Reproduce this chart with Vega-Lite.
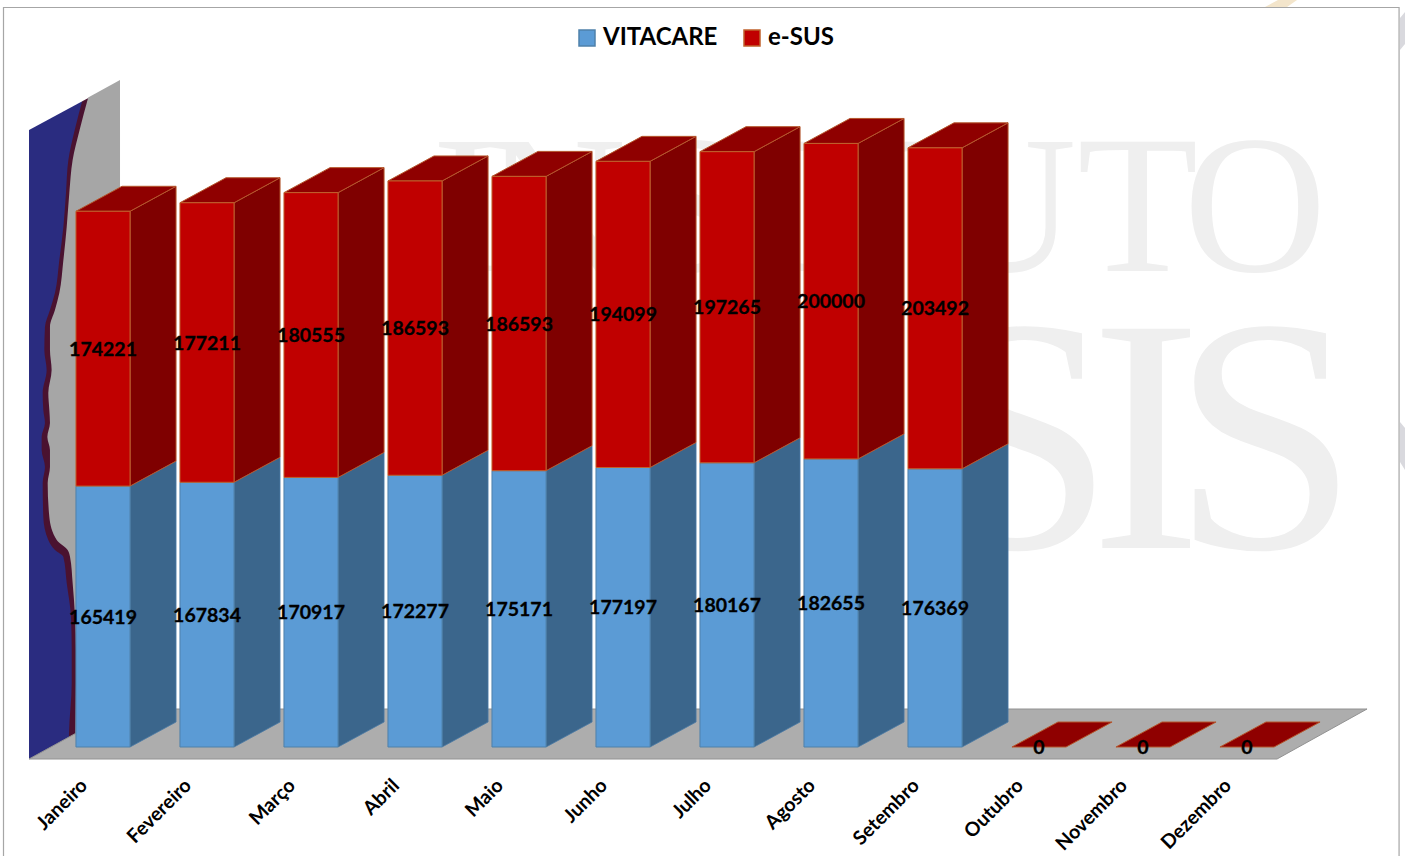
{
"$schema":"https://vega.github.io/schema/vega-lite/v6.json",
"width":1405,"height":759,"autosize":{"type":"none"},"padding":{"left":0,"top":0,"right":0,"bottom":97},
"background":"white","config":{"view":{"stroke":null}},
"datasets":{
"bars":[
{"month":"Janeiro","i":0,"series":"VITACARE","value":165419},{"month":"Janeiro","i":0,"series":"e-SUS","value":174221},
{"month":"Fevereiro","i":1,"series":"VITACARE","value":167834},{"month":"Fevereiro","i":1,"series":"e-SUS","value":177211},
{"month":"Março","i":2,"series":"VITACARE","value":170917},{"month":"Março","i":2,"series":"e-SUS","value":180555},
{"month":"Abril","i":3,"series":"VITACARE","value":172277},{"month":"Abril","i":3,"series":"e-SUS","value":186593},
{"month":"Maio","i":4,"series":"VITACARE","value":175171},{"month":"Maio","i":4,"series":"e-SUS","value":186593},
{"month":"Junho","i":5,"series":"VITACARE","value":177197},{"month":"Junho","i":5,"series":"e-SUS","value":194099},
{"month":"Julho","i":6,"series":"VITACARE","value":180167},{"month":"Julho","i":6,"series":"e-SUS","value":197265},
{"month":"Agosto","i":7,"series":"VITACARE","value":182655},{"month":"Agosto","i":7,"series":"e-SUS","value":200000},
{"month":"Setembro","i":8,"series":"VITACARE","value":176369},{"month":"Setembro","i":8,"series":"e-SUS","value":203492},
{"month":"Outubro","i":9,"series":"VITACARE","value":0},{"month":"Outubro","i":9,"series":"e-SUS","value":0},
{"month":"Novembro","i":10,"series":"VITACARE","value":0},{"month":"Novembro","i":10,"series":"e-SUS","value":0},
{"month":"Dezembro","i":11,"series":"VITACARE","value":0},{"month":"Dezembro","i":11,"series":"e-SUS","value":0}
],
"frame":[{"x":-0.9567,"x2":12.462,"y":468842,"y2":-71642}],
"wall":[{"x":-0.7115,"y":391178,"y2":-7608},{"x":0.1635,"y":422878,"y2":24092}],
"floor":[{"y":-7608,"x":-0.7115,"x2":11.2885},{"y":24092,"x":0.1635,"x2":12.154}],
"mask":[{"x":-0.72,"y":416000,"y2":390800},{"x":-0.141,"y":416000,"y2":411500}],
"cornerA":[{"x":11.173,"y":469160,"y2":469160},{"x":11.298,"y":473598,"y2":469160},{"x":11.385,"y":473598,"y2":469160},{"x":11.481,"y":473598,"y2":473598}],
"cornerB":[{"k":"a","x":12.471,"y":462186,"y2":441898},{"k":"a","x":12.519,"y":465990,"y2":445702},{"k":"b","x":12.471,"y":206050,"y2":180690},{"k":"b","x":12.519,"y":202246,"y2":175618}],
"topWords":[{"t":"I","x":3.481,"y":301784},{"t":"N","x":4.346,"y":301784},{"t":"S","x":5.644,"y":301784},{"t":"T","x":6.606,"y":301784},{"t":"I","x":7.375,"y":301784},{"t":"T","x":8.144,"y":301784},{"t":"U","x":8.673,"y":301784},{"t":"T","x":9.95,"y":301784},{"t":"O","x":11.077,"y":301784}],
"lowWords":[{"t":"S","x":8.827,"y":126166},{"t":"I","x":10.029,"y":126166},{"t":"S","x":11.173,"y":126166}],
"face":[
{"y":412100,"left":-0.7115,"inner":-0.189,"outer":-0.141},
{"y":391178,"left":-0.7115,"inner":-0.272,"outer":-0.225},
{"y":372158,"left":-0.7115,"inner":-0.333,"outer":-0.292},
{"y":351236,"left":-0.7115,"inner":-0.356,"outer":-0.324},
{"y":329680,"left":-0.7115,"inner":-0.381,"outer":-0.349},
{"y":308758,"left":-0.7115,"inner":-0.420,"outer":-0.381},
{"y":287836,"left":-0.7115,"inner":-0.462,"outer":-0.420},
{"y":277058,"left":-0.7115,"inner":-0.510,"outer":-0.462},
{"y":266280,"left":-0.7115,"inner":-0.558,"outer":-0.510},
{"y":251698,"left":-0.7115,"inner":-0.564,"outer":-0.510},
{"y":239018,"left":-0.7115,"inner":-0.542,"outer":-0.494},
{"y":224436,"left":-0.7115,"inner":-0.580,"outer":-0.526},
{"y":213658,"left":-0.7115,"inner":-0.574,"outer":-0.516},
{"y":205416,"left":-0.7115,"inner":-0.558,"outer":-0.510},
{"y":196540,"left":-0.7115,"inner":-0.590,"outer":-0.535},
{"y":188298,"left":-0.7115,"inner":-0.590,"outer":-0.510},
{"y":177520,"left":-0.7115,"inner":-0.558,"outer":-0.510},
{"y":167376,"left":-0.7115,"inner":-0.580,"outer":-0.532},
{"y":145820,"left":-0.7115,"inner":-0.574,"outer":-0.516},
{"y":131238,"left":-0.7115,"inner":-0.526,"outer":-0.445},
{"y":124898,"left":-0.7115,"inner":-0.462,"outer":-0.340},
{"y":120460,"left":-0.7115,"inner":-0.381,"outer":-0.317},
{"y":103976,"left":-0.7115,"inner":-0.349,"outer":-0.292},
{"y":82420,"left":-0.7115,"inner":-0.308,"outer":-0.269},
{"y":61498,"left":-0.7115,"inner":-0.301,"outer":-0.260},
{"y":40576,"left":-0.7115,"inner":-0.301,"outer":-0.260},
{"y":8876,"left":-0.7115,"inner":-0.327,"outer":-0.266},
{"y":-7608,"left":-0.7115,"inner":-0.33,"outer":-0.266}
]
},
"layer":[
{"data":{"name":"cornerA"},"mark":{"type":"area","orient":"vertical","fill":"#f3e5cb"},"encoding":{
"x":{"field":"x","type":"quantitative","scale":{"domain":[-0.9904,12.519],"nice":false,"zero":false},"axis":null},
"y":{"field":"y","type":"quantitative","scale":{"domain":[-7608,473598],"nice":false,"zero":false},"axis":null},"y2":{"field":"y2"}}},
{"data":{"name":"cornerB"},"mark":{"type":"area","orient":"vertical","fill":"#d9d9de"},"encoding":{
"x":{"field":"x","type":"quantitative","scale":{"domain":[-0.9904,12.519],"nice":false,"zero":false},"axis":null},
"y":{"field":"y","type":"quantitative","scale":{"domain":[-7608,473598],"nice":false,"zero":false},"axis":null},"y2":{"field":"y2"},"detail":{"field":"k"}}},
{"data":{"name":"frame"},"mark":{"type":"rect","fillOpacity":0,"stroke":"#a6a6a6","strokeWidth":1.2},"encoding":{
"x":{"field":"x","type":"quantitative","scale":{"domain":[-0.9904,12.519],"nice":false,"zero":false},"axis":null},"x2":{"field":"x2"},
"y":{"field":"y","type":"quantitative","scale":{"domain":[-7608,473598],"nice":false,"zero":false},"axis":null},"y2":{"field":"y2"}}},
{"data":{"name":"topWords"},"mark":{"type":"text","font":"Liberation Serif","fontSize":198,"color":"#efefef","align":"center","baseline":"alphabetic"},"encoding":{
"x":{"field":"x","type":"quantitative","scale":{"domain":[-0.9904,12.519],"nice":false,"zero":false},"axis":null},
"y":{"field":"y","type":"quantitative","scale":{"domain":[-7608,473598],"nice":false,"zero":false},"axis":null},"text":{"field":"t"}}},
{"data":{"name":"lowWords"},"mark":{"type":"text","font":"Liberation Serif","fontSize":335,"color":"#efefef","align":"center","baseline":"alphabetic"},"encoding":{
"x":{"field":"x","type":"quantitative","scale":{"domain":[-0.9904,12.519],"nice":false,"zero":false},"axis":null},
"y":{"field":"y","type":"quantitative","scale":{"domain":[-7608,473598],"nice":false,"zero":false},"axis":null},"text":{"field":"t"}}},
{"data":{"name":"wall"},"mark":{"type":"area","orient":"vertical","fill":"#a6a6a6"},"encoding":{
"x":{"field":"x","type":"quantitative","scale":{"domain":[-0.9904,12.519],"nice":false,"zero":false},"axis":null},
"y":{"field":"y","type":"quantitative","scale":{"domain":[-7608,473598],"nice":false,"zero":false},"axis":null},"y2":{"field":"y2"}}},
{"data":{"name":"face"},"mark":{"type":"area","orient":"horizontal","fill":"#4a1230","interpolate":"monotone"},"encoding":{
"y":{"field":"y","type":"quantitative","scale":{"domain":[-7608,473598],"nice":false,"zero":false},"axis":null},
"x":{"field":"left","type":"quantitative","scale":{"domain":[-0.9904,12.519],"nice":false,"zero":false},"axis":null},"x2":{"field":"outer"}}},
{"data":{"name":"face"},"mark":{"type":"area","orient":"horizontal","fill":"#2a2c80","interpolate":"monotone"},"encoding":{
"y":{"field":"y","type":"quantitative","scale":{"domain":[-7608,473598],"nice":false,"zero":false},"axis":null},
"x":{"field":"left","type":"quantitative","scale":{"domain":[-0.9904,12.519],"nice":false,"zero":false},"axis":null},"x2":{"field":"inner"}}},
{"data":{"name":"mask"},"mark":{"type":"area","orient":"vertical","fill":"white"},"encoding":{
"x":{"field":"x","type":"quantitative","scale":{"domain":[-0.9904,12.519],"nice":false,"zero":false},"axis":null},
"y":{"field":"y","type":"quantitative","scale":{"domain":[-7608,473598],"nice":false,"zero":false},"axis":null},"y2":{"field":"y2"}}},
{"data":{"name":"floor"},"mark":{"type":"area","orient":"horizontal","fill":"#adadad","stroke":"#929292","strokeWidth":1},"encoding":{
"y":{"field":"y","type":"quantitative","scale":{"domain":[-7608,473598],"nice":false,"zero":false},"axis":null},
"x":{"field":"x","type":"quantitative","scale":{"domain":[-0.9904,12.519],"nice":false,"zero":false},"axis":null},"x2":{"field":"x2"}}},
{"data":{"name":"bars"},"transform":[
{"stack":"value","groupby":["i"],"sort":[{"field":"series","order":"ascending"}],"as":["y0","y1"]},
{"filter":"datum.series=='VITACARE' && datum.value>0"},
{"calculate":"0","as":"near"},{"calculate":"1","as":"far"},{"fold":["near","far"],"as":["face","d"]},
{"calculate":"datum.i+0.26+datum.d*0.4423","as":"sx"},{"calculate":"datum.y0+datum.d*15850","as":"sa"},{"calculate":"datum.y1+datum.d*15850","as":"sb"}],
"mark":{"type":"area","orient":"vertical","fill":"#3b668c","stroke":"#4a7aa5","strokeWidth":0.8},"encoding":{
"x":{"field":"sx","type":"quantitative","scale":{"domain":[-0.9904,12.519],"nice":false,"zero":false},"axis":null},
"y":{"field":"sa","type":"quantitative","scale":{"domain":[-7608,473598],"nice":false,"zero":false},"axis":null},"y2":{"field":"sb"},"detail":{"field":"month"}}},
{"data":{"name":"bars"},"transform":[
{"stack":"value","groupby":["i"],"sort":[{"field":"series","order":"ascending"}],"as":["y0","y1"]},
{"filter":"datum.series=='e-SUS' && datum.value>0"},
{"calculate":"0","as":"near"},{"calculate":"1","as":"far"},{"fold":["near","far"],"as":["face","d"]},
{"calculate":"datum.i+0.26+datum.d*0.4423","as":"sx"},{"calculate":"datum.y0+datum.d*15850","as":"sa"},{"calculate":"datum.y1+datum.d*15850","as":"sb"}],
"mark":{"type":"area","orient":"vertical","fill":"#7f0000","stroke":"#b5562c","strokeWidth":1},"encoding":{
"x":{"field":"sx","type":"quantitative","scale":{"domain":[-0.9904,12.519],"nice":false,"zero":false},"axis":null},
"y":{"field":"sa","type":"quantitative","scale":{"domain":[-7608,473598],"nice":false,"zero":false},"axis":null},"y2":{"field":"sb"},"detail":{"field":"month"}}},
{"data":{"name":"bars"},"transform":[
{"stack":"value","groupby":["i"],"sort":[{"field":"series","order":"ascending"}],"as":["y0","y1"]},
{"filter":"datum.series=='e-SUS'"},
{"calculate":"0","as":"near"},{"calculate":"1","as":"far"},{"fold":["near","far"],"as":["face","d"]},
{"calculate":"datum.i-0.26+datum.d*0.4423","as":"tl"},{"calculate":"datum.i+0.26+datum.d*0.4423","as":"tr"},{"calculate":"datum.y1+datum.d*15850","as":"ty"}],
"mark":{"type":"area","orient":"horizontal","fill":"#8f0000","stroke":"#b5562c","strokeWidth":1},"encoding":{
"y":{"field":"ty","type":"quantitative","scale":{"domain":[-7608,473598],"nice":false,"zero":false},"axis":null},
"x":{"field":"tl","type":"quantitative","scale":{"domain":[-0.9904,12.519],"nice":false,"zero":false},"axis":null},"x2":{"field":"tr"},"detail":{"field":"month"}}},
{"data":{"name":"bars"},"transform":[
{"stack":"value","groupby":["i"],"sort":[{"field":"series","order":"ascending"}],"as":["y0","y1"]},
{"filter":"datum.value>0"},
{"calculate":"datum.i-0.26","as":"l"},{"calculate":"datum.i+0.26","as":"r"}],
"mark":{"type":"rect","strokeWidth":1},"encoding":{
"x":{"field":"l","type":"quantitative","scale":{"domain":[-0.9904,12.519],"nice":false,"zero":false},"axis":null},
"x2":{"field":"r"},
"y":{"field":"y0","type":"quantitative","scale":{"domain":[-7608,473598],"nice":false,"zero":false},"axis":null},"y2":{"field":"y1"},
"color":{"field":"series","type":"nominal","scale":{"domain":["VITACARE","e-SUS"],"range":["#5b9bd5","#c00000"]},
"legend":{"orient":"none","legendX":575,"legendY":26,"direction":"horizontal","title":null,"symbolType":"square","symbolSize":256,"labelFont":"Lato","labelFontWeight":"bold","labelFontSize":24,"labelColor":"black","columnPadding":22,"symbolOpacity":1}},
"stroke":{"field":"series","type":"nominal","scale":{"domain":["VITACARE","e-SUS"],"range":["#4f81aa","#c0622d"]},"legend":null}}},
{"data":{"name":"bars"},"transform":[
{"stack":"value","groupby":["i"],"sort":[{"field":"series","order":"ascending"}],"as":["y0","y1"]},
{"filter":"datum.value>0 || datum.series=='e-SUS'"},
{"calculate":"(datum.y0+datum.y1)/2","as":"mid"}],
"mark":{"type":"text","font":"Lato","fontWeight":"bold","fontSize":19.5,"color":"black","stroke":"black","strokeWidth":0.3,"align":"center","baseline":"middle","dy":1},"encoding":{
"x":{"field":"i","type":"quantitative","scale":{"domain":[-0.9904,12.519],"nice":false,"zero":false},"axis":null},
"y":{"field":"mid","type":"quantitative","scale":{"domain":[-7608,473598],"nice":false,"zero":false},"axis":null},
"text":{"field":"value","type":"nominal"}}},
{"data":{"name":"bars"},"transform":[
{"filter":"datum.series=='e-SUS'"},
{"calculate":"datum.i-0.18","as":"lx"}],
"mark":{"type":"text","font":"Lato","fontWeight":"bold","fontSize":19.5,"color":"black","align":"right","baseline":"middle","angle":315},"encoding":{
"x":{"field":"lx","type":"quantitative","scale":{"domain":[-0.9904,12.519],"nice":false,"zero":false},"axis":null},
"y":{"datum":-22500,"type":"quantitative","scale":{"domain":[-7608,473598],"nice":false,"zero":false},"axis":null},
"text":{"field":"month","type":"nominal"}}}
]
}
